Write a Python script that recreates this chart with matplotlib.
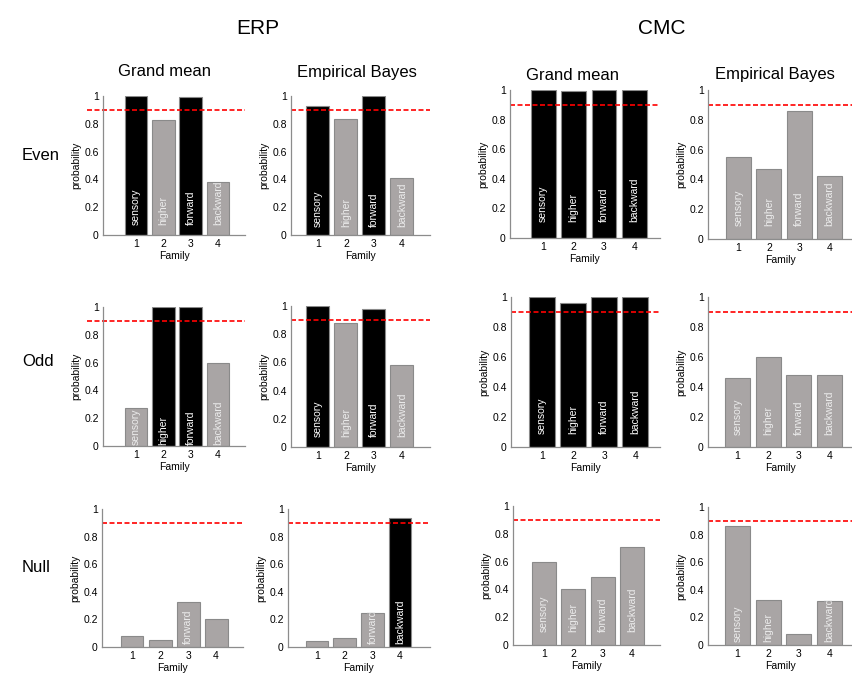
import matplotlib.pyplot as plt

plt.rcParams['font.family'] = ['Liberation Sans', 'DejaVu Sans']

families = [1, 2, 3, 4]
family_names = ["sensory", "higher", "forward", "backward"]
threshold = 0.9

# probabilities per panel (rows: Even, Odd, Null; cols: ERP GM, ERP EB, CMC GM, CMC EB)
erp_gm_even = [1.0, 0.825, 0.995, 0.383]
erp_eb_even = [0.926, 0.833, 1.0, 0.407]
cmc_gm_even = [1.0, 0.995, 1.0, 1.0]
cmc_eb_even = [0.551, 0.473, 0.857, 0.422]

erp_gm_odd = [0.275, 1.0, 1.0, 0.598]
erp_eb_odd = [1.0, 0.879, 0.979, 0.585]
cmc_gm_odd = [1.0, 0.958, 1.0, 1.0]
cmc_eb_odd = [0.458, 0.598, 0.482, 0.482]

erp_gm_null = [0.077, 0.048, 0.325, 0.2]
erp_eb_null = [0.045, 0.064, 0.243, 0.933]
cmc_gm_null = [0.6, 0.402, 0.486, 0.702]
cmc_eb_null = [0.861, 0.323, 0.077, 0.316]

# which bars are "winning" (black) in each panel
erp_gm_even_win = [1, 0, 1, 0]
erp_eb_even_win = [1, 0, 1, 0]
cmc_gm_even_win = [1, 1, 1, 1]
cmc_eb_even_win = [0, 0, 0, 0]
erp_gm_odd_win = [0, 1, 1, 0]
erp_eb_odd_win = [1, 0, 1, 0]
cmc_gm_odd_win = [1, 1, 1, 1]
cmc_eb_odd_win = [0, 0, 0, 0]
erp_gm_null_win = [0, 0, 0, 0]
erp_eb_null_win = [0, 0, 0, 1]
cmc_gm_null_win = [0, 0, 0, 0]
cmc_eb_null_win = [0, 0, 0, 0]

# which bars carry a name label
all_labels = [1, 1, 1, 1]
erp_gm_null_lab = [0, 0, 1, 0]
erp_eb_null_lab = [0, 0, 1, 1]
cmc_eb_null_lab = [1, 1, 0, 1]

panels = [
    (erp_gm_even, erp_gm_even_win, all_labels),
    (erp_eb_even, erp_eb_even_win, all_labels),
    (cmc_gm_even, cmc_gm_even_win, all_labels),
    (cmc_eb_even, cmc_eb_even_win, all_labels),
    (erp_gm_odd, erp_gm_odd_win, all_labels),
    (erp_eb_odd, erp_eb_odd_win, all_labels),
    (cmc_gm_odd, cmc_gm_odd_win, all_labels),
    (cmc_eb_odd, cmc_eb_odd_win, all_labels),
    (erp_gm_null, erp_gm_null_win, erp_gm_null_lab),
    (erp_eb_null, erp_eb_null_win, erp_eb_null_lab),
    (cmc_gm_null, cmc_gm_null_win, all_labels),
    (cmc_eb_null, cmc_eb_null_win, cmc_eb_null_lab),
]

# layout in pixels: left, right, top (y=1), bottom (y=0), xmin, xmax, label start, red line start
boxes = [
    (103, 245, 96, 235, -0.21, 4.99, 0.07, -0.8),
    (291, 430, 96, 235, 0.04, 5.0, 0.06, None),
    (510, 660, 90, 238, -0.09, 4.84, 0.11, None),
    (708, 852, 90, 239, 0.0, 4.73, 0.09, None),
    (103, 245, 307, 446, -0.21, 4.99, 0.01, -0.8),
    (291, 430, 306, 447, 0.04, 5.0, 0.07, None),
    (511, 660, 297, 447, 0.0, 4.8, 0.09, None),
    (708, 852, 297, 447, 0.04, 4.73, 0.08, None),
    (102, 243, 509, 647, -0.07, 4.96, 0.025, None),
    (288, 430, 509, 647, -0.05, 5.08, 0.025, None),
    (513, 660, 506, 645, -0.06, 4.96, 0.09, None),
    (708, 852, 507, 645, 0.04, 4.73, 0.02, None),
]

W, H = 852, 675
fig = plt.figure(figsize=(W / 100, H / 100), dpi=100)

black = "#000000"
grey = "#a9a5a5"
edge = "#8a8a8a"
axis_col = "#8c8c8c"

for (vals, win, lab), (l, r, t, b, x0, x1, ly, rs) in zip(panels, boxes):
    ax = fig.add_axes([l / W, 1 - b / H, (r - l) / W, (b - t) / H])
    colors = [black if w else grey for w in win]
    ax.bar(families, vals, width=0.82, color=colors, edgecolor=edge, linewidth=0.8)
    ax.plot([x0 if rs is None else rs, x1], [threshold, threshold], color="#ff0000",
            linestyle=(0, (3, 1.5)), linewidth=1.2, clip_on=False)
    for f, name, w, show in zip(families, family_names, win, lab):
        if show:
            ax.text(f, ly, name, rotation=90, ha="center", va="bottom",
                    color="white" if w else "#ececec", fontsize=7.5)
    ax.set_xlim(x0, x1)
    ax.set_ylim(0, 1)
    ax.set_xticks(families)
    ax.set_yticks([0, 0.2, 0.4, 0.6, 0.8, 1])
    ax.set_yticklabels(["0", "0.2", "0.4", "0.6", "0.8", "1"])
    ax.tick_params(labelsize=7.5, length=0, pad=3)
    ax.set_xlabel("Family", fontsize=7.5, labelpad=1)
    ax.set_ylabel("probability", fontsize=7.5, labelpad=2)
    for s in ["top", "right"]:
        ax.spines[s].set_visible(False)
    for s in ["left", "bottom"]:
        ax.spines[s].set_color(axis_col)
        ax.spines[s].set_linewidth(0.9)
    ax.patch.set_alpha(0)

# group titles
fig.text(258 / W, 1 - 28 / H, "ERP", fontsize=15, ha="center", va="center")
fig.text(662 / W, 1 - 28 / H, "CMC", fontsize=15, ha="center", va="center")
fig.text(165 / W, 1 - 72 / H, "Grand mean", fontsize=12, ha="center", va="center")
fig.text(357 / W, 1 - 72 / H, "Empirical Bayes", fontsize=12, ha="center", va="center")
fig.text(573 / W, 1 - 75 / H, "Grand mean", fontsize=12, ha="center", va="center")
fig.text(775 / W, 1 - 75 / H, "Empirical Bayes", fontsize=12, ha="center", va="center")

# row labels
fig.text(22 / W, 1 - 155 / H, "Even", fontsize=12, ha="left", va="center")
fig.text(22 / W, 1 - 362 / H, "Odd", fontsize=12, ha="left", va="center")
fig.text(22 / W, 1 - 568 / H, "Null", fontsize=12, ha="left", va="center")

fig.savefig("out.png", dpi=100)
